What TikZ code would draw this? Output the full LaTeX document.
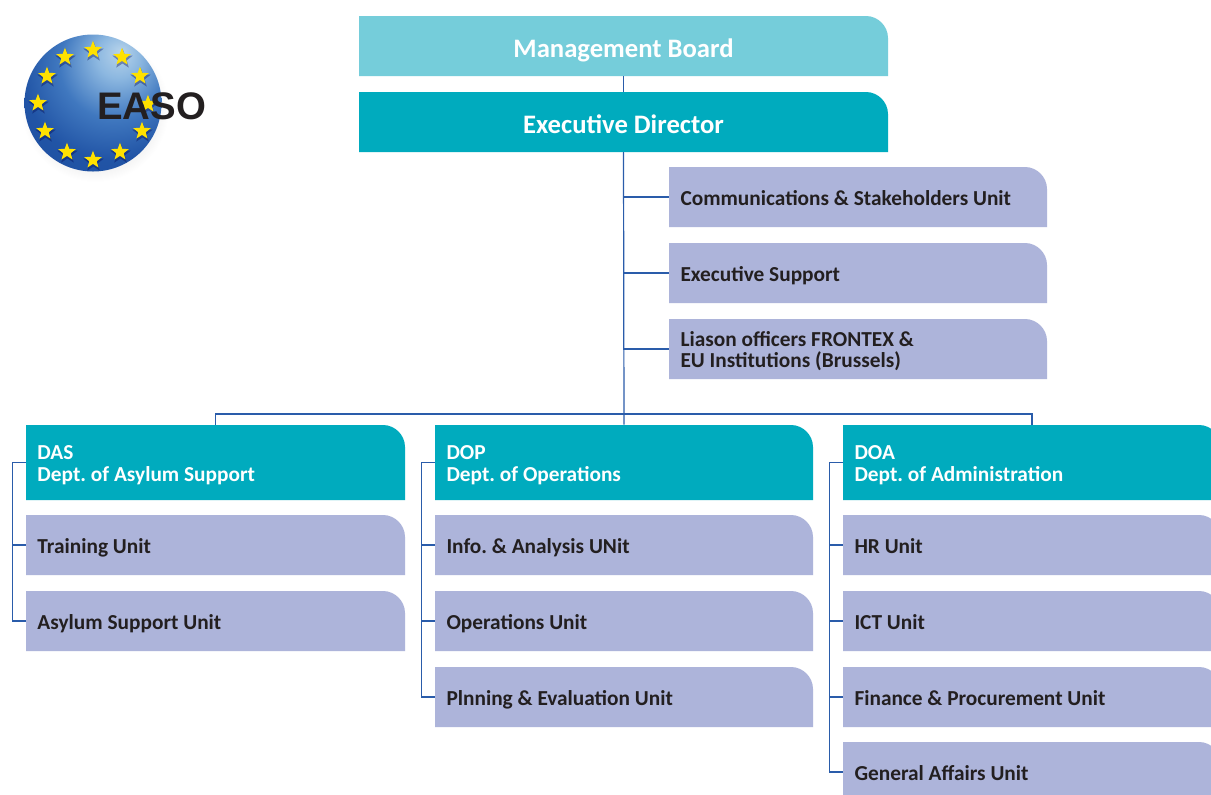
\documentclass[tikz,border=0pt]{standalone}
\usepackage{fontspec}
\setmainfont{Carlito}
\newfontfamily\logofont{Liberation Sans}
\usetikzlibrary{shapes.geometric}
\frenchspacing
\definecolor{mbcol}{HTML}{75CDDA}
\definecolor{tealcol}{HTML}{00ABBE}
\definecolor{unitcol}{HTML}{ADB4DA}
\definecolor{linkcol}{HTML}{2A5CAA}
\definecolor{inkcol}{HTML}{231F20}
\definecolor{starcol}{HTML}{FFE100}
\pgfdeclareradialshading{easoglobe}{\pgfpoint{10.3bp}{19bp}}{
 rgb(0bp)=(0.72,0.83,0.92);
 rgb(8bp)=(0.55,0.72,0.88);
 rgb(20bp)=(0.25,0.47,0.75);
 rgb(32bp)=(0.13,0.33,0.65);
 rgb(50bp)=(0.11,0.30,0.62);
 rgb(62bp)=(0.14,0.38,0.72);
 rgb(80bp)=(0.14,0.38,0.72)
}
\newcommand{\uprule}{\rule{0pt}{11pt}}
\newcommand{\downrule}{\rule[-4pt]{0pt}{4pt}}
\tikzset{
 unitbox/.style={fill=unitcol},
 tealbox/.style={fill=tealcol},
 boardbox/.style={fill=mbcol},
 unittext/.style={text=inkcol,font=\bfseries\fontsize{16}{15.9}\selectfont,align=flush left},
 headtext/.style={text=white,font=\bfseries\fontsize{16}{16.5}\selectfont,align=flush left},
 toptext/.style={text=white,font=\bfseries\fontsize{20}{20}\selectfont,align=flush center,yshift=-.75pt},
 link/.style={draw=linkcol,line width=.9pt},
 euro/.style={star,star points=5,star point ratio=2.4,fill=starcol,draw=none,inner sep=0pt,minimum size=14pt},
 euroshadow/.style={star,star points=5,star point ratio=2.4,fill=black!70!blue,opacity=.35,draw=none,inner sep=0pt,minimum size=16pt}
}
% #1 fill style, #2 text style, #3 name, #4-#7 x1 y1 x2 y2, #8 text
\newcommand{\orgbox}[8]{%
 \path[#1] (#4,#5) -- (#6-22,#5) .. controls (#6-10,#5) and (#6,#5+10) .. (#6,#5+22) -- (#6,#7) -- (#4,#7) -- cycle;
 \node[inner sep=0pt,minimum width={(#6-#4)*0.75pt},minimum height={(#7-#5)*0.75pt}] (#3) at ({(#4+#6)/2},{(#5+#7)/2}) {};
 \node[#2,inner sep=0pt,text width={(#6-#4-23)*0.75pt}] (#3text) at ([yshift=-2.5pt]#3.center) {\uprule#8\downrule};
}
\begin{document}
\begin{tikzpicture}[x=0.75pt,y=-0.75pt]
\useasboundingbox (0,0) rectangle (1211,794);
\clip (0,0) rectangle (1211,794);
\fill[white] (0,0) rectangle (1211,794);
% logo
\shade[inner color=black!28,outer color=white] (95,108) circle[radius=74];
\path[shading=easoglobe] (93,103) circle[radius=68.5];
\foreach \n/\sx/\sy in {a/93/50,b/122/57,c/140/76,d/148/104,e/142/131,f/120/152,g/93/160,h/67/152,i/45/131,j/38/103,k/47/76,l/65/57}{
 \node[euroshadow] (shadow\n) at (\sx+.5,\sy+2) {};
 \node[euro] (star\n) at (\sx,\sy) {};
}
\node[anchor=base west,inner sep=0pt,text=inkcol,font=\logofont\bfseries\fontsize{28.8}{30}\selectfont] (easo) at (97,119) {EASO};
% top
\orgbox{boardbox}{toptext}{mb}{359}{16}{888}{76}{Management Board}
\orgbox{tealbox}{toptext}{ed}{359}{92}{888}{152}{Executive Director}
\orgbox{unitbox}{unittext}{comm}{669}{167}{1047}{227}{Communications \& Stakeholders Unit}
\orgbox{unitbox}{unittext}{exec}{669}{243}{1047}{303}{Executive Support}
\orgbox{unitbox}{unittext}{liaison}{669}{319}{1047}{379}{Liason officers FRONTEX \&\\EU Institutions (Brussels)}
% departments
\orgbox{tealbox}{headtext}{das}{26}{425}{405}{500}{DAS\\Dept. of Asylum Support}
\orgbox{unitbox}{unittext}{train}{26}{515}{405}{575}{Training Unit}
\orgbox{unitbox}{unittext}{asy}{26}{591}{405}{651}{Asylum Support Unit}
\orgbox{tealbox}{headtext}{dop}{435}{425}{813}{500}{DOP\\Dept. of Operations}
\orgbox{unitbox}{unittext}{info}{435}{515}{813}{575}{Info. \& Analysis UNit}
\orgbox{unitbox}{unittext}{ops}{435}{591}{813}{651}{Operations Unit}
\orgbox{unitbox}{unittext}{plan}{435}{667}{813}{727}{Plnning \& Evaluation Unit}
\orgbox{tealbox}{headtext}{doa}{843}{425}{1221}{500}{DOA\\Dept. of Administration}
\orgbox{unitbox}{unittext}{hr}{843}{515}{1221}{575}{HR Unit}
\orgbox{unitbox}{unittext}{ict}{843}{591}{1221}{651}{ICT Unit}
\orgbox{unitbox}{unittext}{fin}{843}{667}{1221}{727}{Finance \& Procurement Unit}
\orgbox{unitbox}{unittext}{gen}{843}{742}{1221}{802}{General Affairs Unit}
% connectors
\draw[link] (mb.south) -- (ed.north);
\draw[link] (ed.south) -- (dop.north);
\draw[link] (ed.south) |- (comm.west);
\draw[link] (ed.south) |- (exec.west);
\draw[link] (ed.south) |- (liaison.west);
\coordinate (bus) at (623.5,414);
\draw[link] (das.north) |- (bus) -| (doa.north);
\draw[link] (das.west) -- ++(-13,0) |- (asy.west);
\draw[link] (train.west) -- ++(-13,0);
\draw[link] (dop.west) -- ++(-13,0) |- (plan.west);
\draw[link] (info.west) -- ++(-13,0);
\draw[link] (ops.west) -- ++(-13,0);
\draw[link] (doa.west) -- ++(-13,0) |- (gen.west);
\draw[link] (hr.west) -- ++(-13,0);
\draw[link] (ict.west) -- ++(-13,0);
\draw[link] (fin.west) -- ++(-13,0);
\end{tikzpicture}
\end{document}
